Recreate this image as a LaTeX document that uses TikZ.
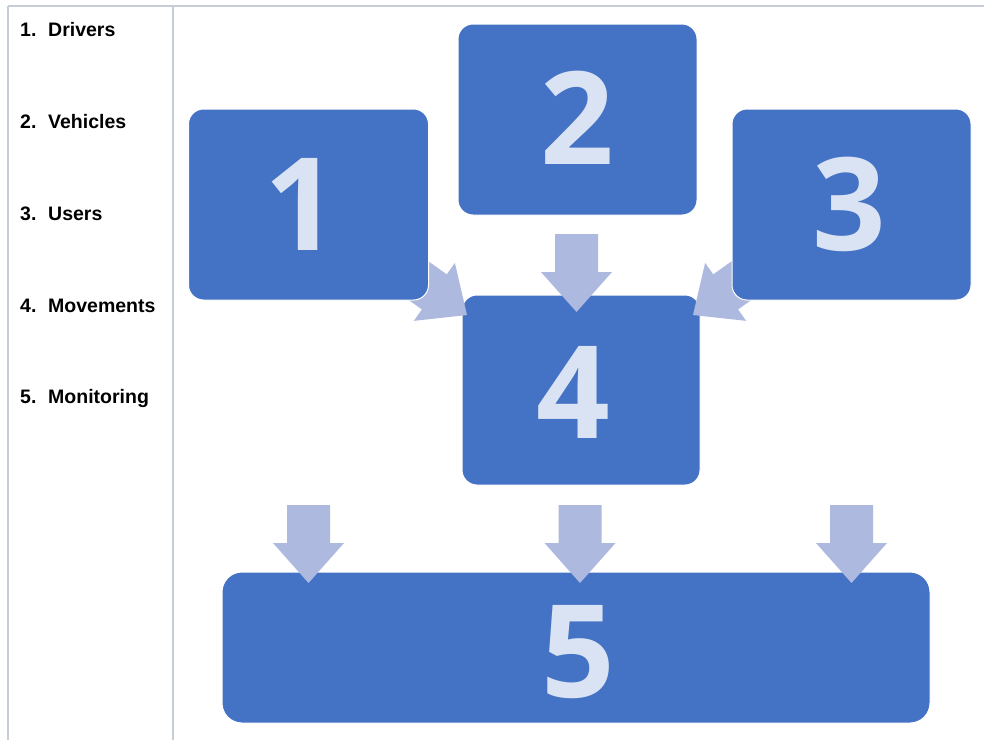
\documentclass[tikz,border=0pt]{standalone}
\usepackage{fontspec}
\setmainfont{Liberation Sans}
\newfontfamily\digitfont{Open Sans}
\definecolor{boxblue}{HTML}{4472C4}
\definecolor{digitc}{HTML}{DAE3F3}
\definecolor{arrowc}{HTML}{ADB9DF}
\definecolor{gridc}{HTML}{C7CDD7}
\begin{document}
\begin{tikzpicture}[x=1pt,y=-1pt,
  box/.style={fill=boxblue, draw=white, line width=1pt, rounded corners=15pt, inner sep=0pt},
  digit/.style={text=digitc, font=\digitfont\bfseries\fontsize{129}{129}\selectfont, inner sep=0pt},
  item/.style={font=\bfseries\fontsize{19.5}{23}\selectfont, anchor=base west, inner sep=0pt},
  gridline/.style={draw=gridc, line width=2pt},
  bigarrow/.pic={\fill[arrowc] (-21.5,-78) -- (21.5,-78) -- (21.5,-40) -- (35.5,-40) -- (0,0) -- (-35.5,-40) -- (-21.5,-40) -- cycle;}]
\useasboundingbox (0,0) rectangle (984,740);
\fill[white] (0,0) rectangle (984,740);
% table grid
\draw[gridline] (8,6) -- (984,6);
\draw[gridline] (8,6) -- (8,740);
\draw[gridline] (173,6) -- (173,740);
% list
\node[item] (n1) at (20,36) {1.};  \node[item] (l1) at (48,36) {Drivers};
\node[item] (n2) at (20,128) {2.}; \node[item] (l2) at (48,128) {Vehicles};
\node[item] (n3) at (20,220) {3.}; \node[item] (l3) at (48,220) {Users};
\node[item] (n4) at (20,312) {4.}; \node[item] (l4) at (48,312) {Movements};
\node[item] (n5) at (20,403) {5.}; \node[item] (l5) at (48,403) {Monitoring};
% boxes under the arrows
\node[box, minimum width=239pt, minimum height=191pt] (b2) at (577.5,119.5) {};
\node[box, minimum width=238pt, minimum height=190pt] (b4) at (581,390) {};
\node[box, rounded corners=20pt, minimum width=708pt, minimum height=151pt] (b5) at (576,647.5) {};
% arrows
\pic at (576.5,312) {bigarrow};
\pic at (308.5,583) {bigarrow};
\pic at (580,583) {bigarrow};
\pic at (851.5,583) {bigarrow};
\pic[rotate=54.7] at (467,315) {bigarrow};
\pic[rotate=-54.7] at (693,315) {bigarrow};
% boxes over the arrows
\node[box, minimum width=240pt, minimum height=191pt] (b1) at (308.5,204.5) {};
\node[box, minimum width=239pt, minimum height=191pt] (b3) at (851.5,204.5) {};
% digits
\node[digit] (d1) at (301,204.5) {1};
\node[digit] (d2) at (577,117.5) {2};
\node[digit] (d3) at (849,204.5) {3};
\node[digit] (d4) at (573,392) {4};
\node[digit] (d5) at (578,652) {5};
\end{tikzpicture}
\end{document}
